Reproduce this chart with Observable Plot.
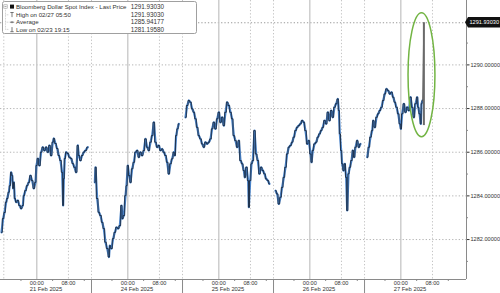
<!DOCTYPE html>
<html><head><meta charset="utf-8">
<script src="https://cdn.jsdelivr.net/npm/d3@7"></script>
<script src="https://cdn.jsdelivr.net/npm/@observablehq/plot@0.6"></script>
<style>html,body{margin:0;padding:0;background:#fff;overflow:hidden}#chart{width:500px;height:293px}</style>
</head><body><div id="chart"></div>
<script>
// ---------- data (hours relative to each session's local 00:00, prices) ----------
const dayLabels = ["21 Feb 2025", "24 Feb 2025", "25 Feb 2025", "26 Feb 2025", "27 Feb 2025"];

const feb21Hours  = [-8.92,-8.50,-8.16,-7.74,-7.49,-7.07,-6.82,-6.48,-6.22,-5.97,-5.80,-5.55,-5.21,-4.79,-4.37,-3.95,-3.53,-3.28,-2.86,-2.43,-2.01,-1.59,-1.17,-0.75,-0.33,-0.08,0.26,0.68,1.10,1.52,1.95,2.37,2.79,3.21,3.63,4.05,4.30,4.73,5.15,5.57,5.99,6.41,6.66,6.83,7.08,7.42,7.84,8.26,8.69,9.11,9.53,9.95,10.37,10.62,11.04,11.47,11.89,12.31,12.90];
const feb21Prices = [1282.33,1282.96,1283.24,1283.71,1283.88,1284.17,1284.47,1285.08,1284.93,1284.34,1284.62,1283.88,1283.71,1283.79,1283.56,1283.42,1283.56,1284.01,1284.24,1284.47,1284.62,1284.93,1284.70,1284.34,1284.62,1285.39,1285.71,1285.39,1286.00,1286.23,1286.08,1286.23,1286.00,1286.31,1285.85,1286.46,1286.63,1286.40,1286.17,1285.85,1285.62,1285.08,1283.56,1284.79,1285.71,1286.00,1285.94,1285.77,1285.71,1285.48,1285.31,1285.08,1286.31,1285.85,1285.62,1285.85,1286.00,1286.08,1286.23];

const feb24Hours  = [-8.33,-8.16,-7.74,-7.32,-6.90,-6.48,-6.06,-5.64,-5.21,-4.75,-4.54,-4.12,-3.70,-3.28,-2.86,-2.43,-2.01,-1.59,-1.34,-1.00,-0.58,-0.33,0.01,0.35,0.68,1.10,1.52,1.95,2.37,2.79,3.21,3.63,4.05,4.47,4.90,5.31,5.74,6.16,6.58,7.00,7.42,7.84,8.26,8.68,9.11,9.53,9.95,10.37,10.79,11.21,11.63,11.89,12.22,12.56,12.90];
const feb24Prices = [1284.62,1285.31,1283.88,1283.25,1283.10,1282.79,1282.50,1281.88,1281.59,1281.20,1281.72,1281.59,1282.04,1282.33,1282.56,1282.50,1282.64,1283.56,1282.96,1283.10,1284.01,1284.47,1285.39,1284.93,1284.62,1285.24,1285.54,1286.00,1286.08,1285.77,1286.00,1285.85,1286.08,1286.61,1286.23,1286.08,1286.46,1286.76,1287.37,1286.46,1286.23,1286.31,1286.08,1286.15,1286.00,1285.85,1285.54,1285.01,1285.47,1285.70,1286.00,1285.85,1286.76,1287.07,1287.30];

const feb25Hours  = [-8.42,-7.99,-7.57,-7.15,-6.73,-6.31,-5.89,-5.47,-5.05,-4.62,-4.20,-3.78,-3.36,-2.94,-2.52,-2.10,-1.68,-1.26,-0.83,-0.41,0.01,0.43,0.85,1.27,1.69,2.12,2.53,2.96,3.38,3.80,4.22,4.64,5.06,5.48,5.91,6.33,6.58,7.00,7.42,7.59,7.93,8.26,8.60,9.02,9.44,9.86,10.28,10.71,11.13,11.55,11.97,12.39,12.81];
const feb25Prices = [1287.60,1288.14,1288.37,1288.29,1287.99,1287.83,1287.53,1287.14,1286.76,1286.61,1286.38,1286.23,1286.46,1286.38,1286.46,1286.61,1287.07,1287.37,1287.07,1287.53,1287.83,1287.37,1287.60,1287.22,1287.83,1288.29,1288.14,1287.83,1287.53,1286.76,1286.53,1286.23,1286.53,1285.62,1285.47,1285.16,1284.85,1285.31,1284.70,1283.48,1284.70,1285.47,1285.62,1286.99,1285.92,1285.62,1285.01,1285.31,1285.16,1285.01,1284.78,1284.70,1284.55];

const feb26Hours  = [-8.67,-8.25,-7.83,-7.40,-6.98,-6.56,-6.14,-5.72,-5.30,-4.88,-4.46,-4.04,-3.61,-3.19,-2.77,-2.35,-1.93,-1.51,-1.09,-0.66,-0.25,0.18,0.43,0.77,1.19,1.61,2.03,2.45,2.87,3.29,3.71,4.14,4.56,4.98,5.40,5.82,6.24,6.66,7.08,7.34,7.59,7.93,8.18,8.52,8.85,9.19,9.45,9.78,10.12,10.54,10.87,11.21,11.55,11.97,12.39,12.81];
const feb26Prices = [1284.24,1284.09,1283.63,1283.94,1284.39,1284.85,1285.31,1285.92,1286.23,1286.31,1286.46,1286.69,1286.99,1287.14,1287.22,1287.30,1287.45,1287.37,1286.99,1286.38,1286.53,1285.92,1285.54,1286.08,1286.38,1286.46,1286.69,1286.84,1286.99,1287.14,1287.45,1287.30,1287.83,1287.45,1287.91,1287.60,1288.06,1288.22,1288.44,1287.91,1286.84,1286.08,1285.47,1285.16,1285.47,1284.85,1283.33,1285.01,1285.31,1285.62,1286.08,1285.77,1286.23,1286.53,1286.23,1286.38];

const feb27Hours  = [-8.50,-8.08,-7.66,-7.24,-6.98,-6.56,-6.14,-5.72,-5.30,-4.88,-4.46,-4.04,-3.61,-3.19,-2.77,-2.35,-1.93,-1.51,-1.09,-0.66,-0.25,0.01,0.35,0.77,1.19,1.61,2.03,2.45,2.87,3.29,3.71,4.14,4.39,4.73,5.06,5.23,5.48];
const feb27Prices = [1285.77,1286.23,1286.69,1286.99,1287.45,1287.14,1287.60,1287.76,1287.91,1288.06,1288.37,1288.67,1288.90,1288.82,1288.67,1288.75,1288.52,1288.29,1288.06,1287.76,1287.30,1287.07,1287.76,1288.22,1287.83,1288.06,1287.91,1288.52,1288.06,1287.60,1288.22,1288.52,1288.06,1287.76,1287.30,1288.22,1288.37];

// final spike bar (27 Feb 05:50)
const spikeHour = 5.83;
const spikeLow = 1287.22;
const lastPrice = 1291.9303;

const legendLabels = ["Bloomberg Dollar Spot Index - Last Price", "High on 02/27 05:50", "Average", "Low on 02/23 19:15"];
const legendValues = ["1291.93030", "1291.93030", "1285.94177", "1281.19580"];

const yMajorTicks = [1282, 1284, 1286, 1288, 1290];
const yMinorTicks = [1281, 1283, 1285, 1287, 1289, 1291];
const timeTickHours = [0, 8];
const timeTickLabels = ["00:00", "08:00"];
const minorTimeHours = [-4, 4, 12];

// ---------- compressed session axis ----------
const SESSION = 23;        // hours per session on the axis
const PRE = 9.17;          // hours from session start to 00:00
const t = (d, h) => d * SESSION + PRE + h;

const sessions = [
  [feb21Hours, feb21Prices], [feb24Hours, feb24Prices], [feb25Hours, feb25Prices],
  [feb26Hours, feb26Prices], [feb27Hours, feb27Prices]
];
const rows = [];
sessions.forEach(([hs, ps], d) => hs.forEach((h, i) => rows.push({day: d, x: t(d, h), v: ps[i]})));
const last = rows[rows.length - 1];
const spikeRows = [{x: last.x, v: last.v}, {x: t(4, spikeHour), v: lastPrice}];

const xDomain = [0, 117.77];
const yDomain = [1280.17, 1292.95];

const solidX = dayLabels.map((_, d) => t(d, 0));
const sepX = dayLabels.slice(1).map((_, d) => (d + 1) * SESSION);
const dottedX = [0.83].concat(sepX).concat(dayLabels.map((_, d) => t(d, 8)));
const timeLabels = [];
dayLabels.forEach((_, d) => timeTickHours.forEach((h, k) => timeLabels.push({x: t(d, h), label: timeTickLabels[k]})));
const minorX = [];
dayLabels.forEach((_, d) => minorTimeHours.forEach(h => { const x = t(d, h); if (x > 0 && x < xDomain[1]) minorX.push(x); }));
const dateRows = dayLabels.map((lab, d) => ({x: d * SESSION + SESSION / 2, label: lab}));

const FONT = "'Liberation Sans', Arial, sans-serif";

// ellipse annotation (data coords: center, radii)
const ellipse = {cx: t(4, 5.35), cy: 1289.53, rx: 3.4, ry: 2.84};

const chart = Plot.plot({
  width: 500, height: 293,
  marginTop: 0, marginBottom: 14, marginLeft: 0, marginRight: 34,
  style: {fontFamily: FONT, fontSize: "5.6px", background: "white", color: "#333", overflow: "visible"},
  x: {domain: xDomain, axis: null},
  y: {domain: yDomain, axis: "right", ticks: yMajorTicks, tickFormat: d => d.toFixed(5), tickSize: 2.5, tickPadding: 1.5, label: null},
  marks: [
    Plot.ruleY(yMajorTicks, {stroke: "#b5b5b5", strokeDasharray: "1.3,2", strokeWidth: 1}),
    Plot.ruleY([lastPrice], {stroke: "#9a9a9a", strokeDasharray: "1.3,2", strokeWidth: 1}),
    Plot.ruleX(dottedX, {stroke: "#c4c4c4", strokeDasharray: "1.3,2", strokeWidth: 1}),
    Plot.ruleX(solidX, {stroke: "#c6c6c6", strokeWidth: 1.3}),
    // frame lines and ticks
    Plot.ruleX([xDomain[1]], {stroke: "#8a8a8a", strokeWidth: 1}),
    Plot.ruleY([yDomain[0]], {stroke: "#8a8a8a", strokeWidth: 1}),
    Plot.ruleX(sepX, {stroke: "#8a8a8a", strokeWidth: 1, insetTop: 279, insetBottom: -14}),
    Plot.ruleX(minorX, {stroke: "#8a8a8a", strokeWidth: 1, insetTop: 279, insetBottom: -2}),
    Plot.ruleY(yMinorTicks, {stroke: "#8a8a8a", strokeWidth: 1, insetLeft: 466, insetRight: -2}),
    // price series: blue body + dark bar-like overlay
    Plot.line(rows, {x: "x", y: "v", z: "day", stroke: "#4a83c8", strokeWidth: 2.2}),
    Plot.line(rows, {x: "x", y: "v", z: "day", stroke: "#121b29", strokeWidth: 0.75, curve: "step"}),
    Plot.line(spikeRows, {x: "x", y: "v", stroke: "#555", strokeWidth: 0.8}),
    Plot.ruleX([t(4, spikeHour)], {y1: spikeLow, y2: lastPrice, stroke: "#6a6a6a", strokeWidth: 2}),
    // bottom axis labels
    Plot.text(timeLabels, {x: "x", text: "label", frameAnchor: "bottom", dy: 5.3, fontSize: 5.6, fill: "#333"}),
    Plot.text(dateRows, {x: "x", text: "label", frameAnchor: "bottom", dy: 11.3, fontSize: 5.8, fill: "#333"}),
    // ellipse annotation
    (index, scales) => {
      const cx = scales.x(ellipse.cx), cy = scales.y(ellipse.cy);
      const rx = Math.abs(scales.x(ellipse.cx + ellipse.rx) - cx);
      const ry = Math.abs(scales.y(ellipse.cy + ellipse.ry) - cy);
      return d3.create("svg:ellipse").attr("cx", cx).attr("cy", cy).attr("rx", rx).attr("ry", ry)
        .attr("fill", "none").attr("stroke", "#72b443").attr("stroke-width", 1.5).node();
    },
    // last price tag
    (index, scales) => {
      const y = scales.y(lastPrice), x0 = scales.x(xDomain[1]);
      const g = d3.create("svg:g");
      g.append("path").attr("d", `M${x0 - 1},${y} L${x0 + 2},${y - 5.3} H500 V${y + 5.3} H${x0 + 2} Z`).attr("fill", "#111");
      g.append("text").attr("x", x0 + 3.5).attr("y", y).attr("dy", "0.35em").attr("fill", "#fff")
        .attr("text-anchor", "start").attr("font-size", 5.6).text(lastPrice.toFixed(5));
      return g.node();
    },
    // legend box
    () => {
      const g = d3.create("svg:g").attr("font-family", FONT).attr("fill", "#333");
      g.append("rect").attr("x", 2.5).attr("y", 1.5).attr("width", 194).attr("height", 32).attr("rx", 2)
        .attr("fill", "white").attr("stroke", "#a0a0a0");
      const rowY = [6.6, 14.8, 22.2, 29.4];
      // tree lines
      g.append("rect").attr("x", 3.8).attr("y", 4.8).attr("width", 3.4).attr("height", 3.4).attr("fill", "white").attr("stroke", "#999").attr("stroke-width", 0.6);
      g.append("line").attr("x1", 4.5).attr("x2", 6.5).attr("y1", 6.5).attr("y2", 6.5).attr("stroke", "#777").attr("stroke-width", 0.6);
      g.append("line").attr("x1", 5.5).attr("x2", 5.5).attr("y1", 8.4).attr("y2", rowY[3]).attr("stroke", "#aaa").attr("stroke-width", 0.6).attr("stroke-dasharray", "0.8,0.8");
      rowY.slice(1).forEach(y => g.append("line").attr("x1", 5.5).attr("x2", 9).attr("y1", y).attr("y2", y).attr("stroke", "#aaa").attr("stroke-width", 0.6).attr("stroke-dasharray", "0.8,0.8"));
      // symbols
      g.append("rect").attr("x", 10).attr("y", rowY[0] - 2).attr("width", 4).attr("height", 4).attr("fill", "#111");
      g.append("path").attr("d", `M10.3,${rowY[1] - 2.3} H13.7 M12,${rowY[1] - 2.3} V${rowY[1] + 2.3}`).attr("stroke", "#444").attr("stroke-width", 0.7).attr("fill", "none");
      g.append("path").attr("d", `M9.8,${rowY[2]} H14.2 M12,${rowY[2] - 1} V${rowY[2] + 1}`).attr("stroke", "#444").attr("stroke-width", 0.7).attr("fill", "none");
      g.append("path").attr("d", `M10.3,${rowY[3] + 2.3} H13.7 M12,${rowY[3] - 2.3} V${rowY[3] + 2.3}`).attr("stroke", "#444").attr("stroke-width", 0.7).attr("fill", "none");
      legendLabels.forEach((lab, i) => {
        g.append("text").attr("x", 16).attr("y", rowY[i]).attr("dy", "0.36em").attr("font-size", 6.1).attr("text-anchor", "start").text(lab);
        g.append("text").attr("x", 164).attr("y", rowY[i]).attr("dy", "0.36em").attr("font-size", 6.3).attr("text-anchor", "end").text(legendValues[i]);
      });
      return g.node();
    }
  ]
});
document.getElementById("chart").appendChild(chart);
</script>
</body></html>
